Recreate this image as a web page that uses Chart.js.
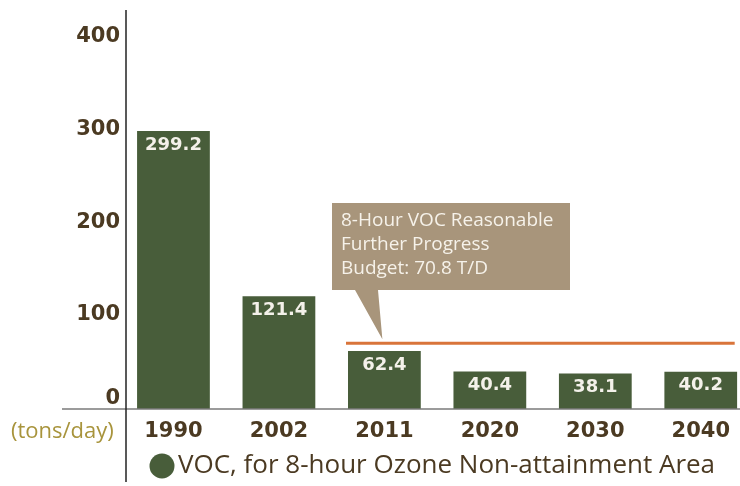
<!DOCTYPE html>
<html>
<head>
<meta charset="utf-8">
<script src="https://cdn.jsdelivr.net/npm/chart.js@4/dist/chart.umd.min.js"></script>
<style>
  html, body { margin: 0; padding: 0; background: #fff; }
  #wrap { width: 740px; height: 486px; position: relative; }
</style>
</head>
<body>
<div id="wrap"><canvas id="chart"></canvas></div>
<script>
const years = ['1990', '2002', '2011', '2020', '2030', '2040'];
const vocTons = [299.2, 121.4, 62.4, 40.4, 38.1, 40.2];
const yTicks = [0, 100, 200, 300, 400];
const budgetValue = 70.8;
const budgetFromIndex = 2;
const calloutLines = ['8-Hour VOC Reasonable', 'Further Progress', 'Budget: 70.8 T/D'];
const unitLabel = '(tons/day)';
const seriesLabel = 'VOC, for 8-hour Ozone Non-attainment Area';

const GREEN = '#485d3a';
const BROWN = '#4b3a22';
const ORANGE = '#d9743a';
const TAN = '#a8957b';
const GOLD = '#a8943c';

const extras = {
  id: 'extras',
  afterDatasetsDraw(chart) {
    const { ctx, scales: { x, y } } = chart;
    const bars = chart.getDatasetMeta(0).data;
    ctx.save();

    // value labels inside bars
    ctx.fillStyle = '#f4f1ea';
    ctx.font = 'bold 18px "DejaVu Sans"';
    ctx.textAlign = 'center';
    ctx.textBaseline = 'middle';
    bars.forEach((b, i) => {
      ctx.fillText(vocTons[i].toFixed(1), b.x, b.y + 14);
    });

    // y tick labels (0 sits a bit above the axis line)
    ctx.fillStyle = BROWN;
    ctx.font = 'bold 21px "DejaVu Sans"';
    ctx.textAlign = 'right';
    yTicks.forEach(v => {
      const py = y.getPixelForValue(v) - (v === 0 ? 10 : 1);
      ctx.fillText(String(v), x.left - 6, py);
    });

    // axis lines (extended beyond chart area)
    ctx.strokeStyle = '#7a7a7a';
    ctx.lineWidth = 1.5;
    ctx.beginPath();
    ctx.moveTo(62, y.getPixelForValue(0));
    ctx.lineTo(740, y.getPixelForValue(0));
    ctx.stroke();
    ctx.strokeStyle = '#222';
    ctx.beginPath();
    ctx.moveTo(x.left, 10);
    ctx.lineTo(x.left, 482);
    ctx.stroke();

    // budget line
    const by = y.getPixelForValue(budgetValue);
    const b0 = bars[budgetFromIndex];
    const bx0 = b0.x - b0.width / 2 - 2;
    ctx.strokeStyle = ORANGE;
    ctx.lineWidth = 3;
    ctx.beginPath();
    ctx.moveTo(bx0, by);
    ctx.lineTo(x.right - 3, by);
    ctx.stroke();

    // callout
    const tipX = b0.x - 2, tipY = by - 4;
    const boxL = 332, boxT = 203, boxR = 570, boxB = 290;
    ctx.fillStyle = TAN;
    ctx.beginPath();
    ctx.moveTo(boxL, boxT);
    ctx.lineTo(boxR, boxT);
    ctx.lineTo(boxR, boxB);
    ctx.lineTo(boxL + 46, boxB);
    ctx.lineTo(tipX, tipY);
    ctx.lineTo(boxL + 23, boxB);
    ctx.lineTo(boxL, boxB);
    ctx.closePath();
    ctx.fill();
    ctx.fillStyle = '#f6f2ea';
    ctx.font = '19px "Open Sans"';
    ctx.textAlign = 'left';
    ctx.textBaseline = 'middle';
    calloutLines.forEach((t, i) => ctx.fillText(t, boxL + 9, boxT + 18 + i * 24));

    // unit label
    ctx.fillStyle = GOLD;
    ctx.font = '22px "Open Sans"';
    ctx.textAlign = 'left';
    ctx.fillText(unitLabel, 11, 432);

    // legend
    ctx.fillStyle = GREEN;
    ctx.beginPath();
    ctx.arc(162, 466, 12.5, 0, Math.PI * 2);
    ctx.fill();
    ctx.fillStyle = BROWN;
    ctx.font = '26px "Open Sans"';
    ctx.fillText(chart.data.datasets[0].label, 178, 466);

    ctx.restore();
  }
};

new Chart(document.getElementById('chart'), {
  type: 'bar',
  data: {
    datasets: [{
      label: seriesLabel,
      data: vocTons.map((v, i) => ({ x: i, y: v })),
      backgroundColor: GREEN,
      borderWidth: 0,
      barPercentage: 0.69,
      categoryPercentage: 1
    }]
  },
  options: {
    responsive: true,
    maintainAspectRatio: false,
    animation: false,
    layout: { padding: 0 },
    plugins: { legend: { display: false }, tooltip: { enabled: false } },
    scales: {
      x: {
        type: 'linear',
        offset: false,
        min: -0.45,
        max: 5.35,
        grid: { display: false, drawTicks: false },
        border: { display: false },
        afterBuildTicks: s => { s.ticks = years.map((_, i) => ({ value: i })); },
        afterFit: s => { s.height = 77; },
        ticks: {
          padding: 10,
          color: BROWN,
          font: { family: 'DejaVu Sans', weight: 'bold', size: 21 },
          callback: v => years[v]
        }
      },
      y: {
        min: 0,
        max: 440,
        grid: { display: false, drawTicks: false },
        border: { display: false },
        afterBuildTicks: s => { s.ticks = yTicks.map(v => ({ value: v })); },
        afterFit: s => { s.width = 126; },
        ticks: {
          display: false,
          font: { family: 'DejaVu Sans', weight: 'bold', size: 21 }
        }
      }
    }
  },
  plugins: [extras]
});
</script>
</body>
</html>
